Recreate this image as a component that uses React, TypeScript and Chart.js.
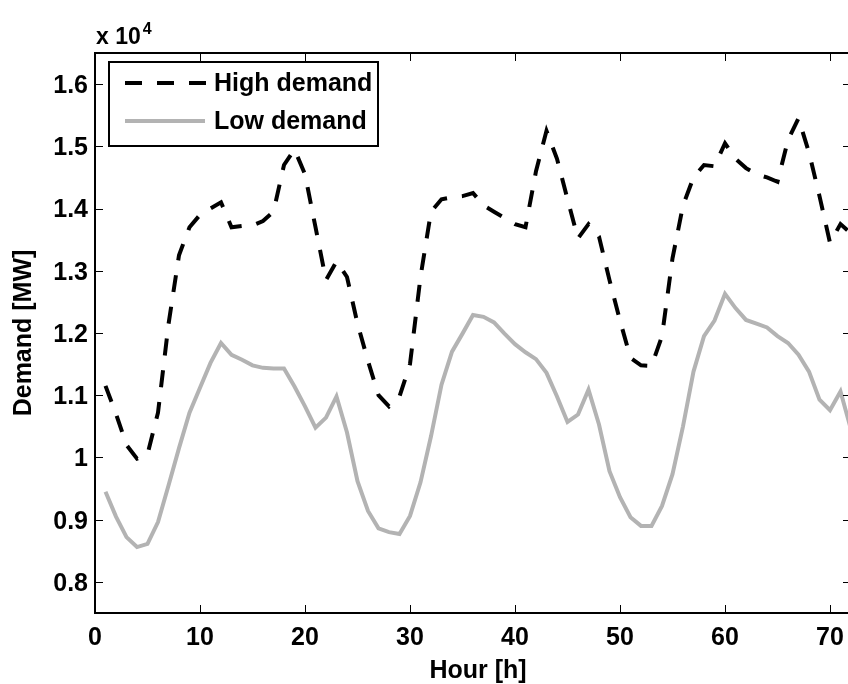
import React, { useEffect, useRef } from 'react';
import { Chart, registerables } from 'chart.js';

Chart.register(...registerables);

const hours = [
  1, 2, 3, 4, 5, 6, 7, 8, 9, 10, 11, 12, 13, 14, 15, 16, 17, 18, 19, 20, 21, 22, 23, 24,
  25, 26, 27, 28, 29, 30, 31, 32, 33, 34, 35, 36, 37, 38, 39, 40, 41, 42, 43, 44, 45, 46, 47, 48,
  49, 50, 51, 52, 53, 54, 55, 56, 57, 58, 59, 60, 61, 62, 63, 64, 65, 66, 67, 68, 69, 70, 71, 72,
];

const highDemand = [
  11150, 10700, 10200, 9980, 10050, 10720, 12140, 13250, 13700, 13900, 14000, 14100,
  13700, 13720, 13730, 13800, 13950, 14700, 14950, 14550, 13700, 12850, 13150, 12900,
  12150, 11550, 11000, 10820, 10980, 11500, 12900, 13950, 14150, 14180, 14200, 14250,
  14050, 13950, 13850, 13750, 13700, 14600, 15250, 14800, 14150, 13520, 13750, 13550,
  12850, 12200, 11600, 11480, 11470, 11950, 13200, 14050, 14500, 14700, 14680, 15050,
  14800, 14650, 14550, 14500, 14430, 15100, 15450, 14900, 14200, 13450, 13750, 13600,
];

const lowDemand = [
  9450, 9050, 8720, 8560, 8610, 8960, 9550, 10150, 10720, 11120, 11520, 11840,
  11650, 11570, 11480, 11440, 11430, 11430, 11140, 10820, 10480, 10640, 10980, 10400,
  9620, 9140, 8860, 8800, 8770, 9060, 9600, 10340, 11170, 11700, 11990, 12290,
  12260, 12170, 11990, 11820, 11690, 11580, 11360, 10980, 10570, 10690, 11090, 10530,
  9780, 9360, 9040, 8900, 8900, 9220, 9730, 10500, 11380, 11950, 12200, 12630,
  12400, 12210, 12150, 12090, 11950, 11840, 11650, 11380, 10930, 10760, 11060, 10450,
];

const seriesLabels = ['High demand', 'Low demand'];
const xTicks = [0, 10, 20, 30, 40, 50, 60, 70];
const yTicks = [8000, 9000, 10000, 11000, 12000, 13000, 14000, 15000, 16000];
const xRange = [0, 72];
const yRange = [7500, 16500];
const xTitle = 'Hour [h]';
const yTitle = 'Demand [MW]';
const exponentText = ['x 10', '4'];

const FONT = '"Liberation Sans", Arial, Helvetica, sans-serif';
const HIGH_COLOR = '#000000';
const LOW_COLOR = '#b3b3b3';
const DASH = [17, 15];

const framePlugin = {
  id: 'frame',
  afterDraw(chart: any) {
    const { ctx, chartArea: a, scales } = chart;
    ctx.save();
    ctx.strokeStyle = '#000';
    ctx.lineWidth = 2;
    ctx.setLineDash([]);
    ctx.beginPath();
    ctx.moveTo(a.left, a.top);
    ctx.lineTo(a.right, a.top);
    ctx.lineTo(a.right, a.bottom);
    ctx.stroke();

    // inward tick marks
    ctx.lineWidth = 1;
    const tl = 8;
    ctx.beginPath();
    for (const v of xTicks) {
      const px = Math.round(scales.x.getPixelForValue(v)) + 0.5;
      ctx.moveTo(px, a.bottom);
      ctx.lineTo(px, a.bottom - tl);
      ctx.moveTo(px, a.top);
      ctx.lineTo(px, a.top + tl);
    }
    for (const v of yTicks) {
      const py = Math.round(scales.y.getPixelForValue(v)) + 0.5;
      ctx.moveTo(a.left, py);
      ctx.lineTo(a.left + tl, py);
      ctx.moveTo(a.right, py);
      ctx.lineTo(a.right - tl, py);
    }
    ctx.stroke();

    // legend
    const lx = 109, ly = 62, lw = 269, lh = 84;
    ctx.fillStyle = '#fff';
    ctx.fillRect(lx, ly, lw, lh);
    ctx.lineWidth = 2;
    ctx.strokeStyle = '#000';
    ctx.strokeRect(lx, ly, lw, lh);

    ctx.lineWidth = 4;
    ctx.lineCap = 'butt';
    ctx.setLineDash(DASH);
    ctx.strokeStyle = HIGH_COLOR;
    ctx.beginPath();
    ctx.moveTo(125, 83);
    ctx.lineTo(206, 83);
    ctx.stroke();
    ctx.setLineDash([]);
    ctx.strokeStyle = LOW_COLOR;
    ctx.beginPath();
    ctx.moveTo(125, 121);
    ctx.lineTo(205, 121);
    ctx.stroke();

    ctx.fillStyle = '#000';
    ctx.font = `bold 25px ${FONT}`;
    ctx.textAlign = 'left';
    ctx.textBaseline = 'middle';
    ctx.fillText(seriesLabels[0], 214, 84);
    ctx.fillText(seriesLabels[1], 214, 122);

    // axis titles
    ctx.textAlign = 'center';
    ctx.textBaseline = 'alphabetic';
    ctx.fillText(xTitle, 478, 678);
    ctx.save();
    ctx.translate(31, (a.top + a.bottom) / 2);
    ctx.rotate(-Math.PI / 2);
    ctx.fillText(yTitle, 0, 0);
    ctx.restore();

    // exponent
    ctx.textAlign = 'left';
    ctx.font = `bold 23px ${FONT}`;
    ctx.fillText(exponentText[0], 96, 44);
    const w = ctx.measureText(exponentText[0]).width;
    ctx.font = `bold 16px ${FONT}`;
    ctx.fillText(exponentText[1], 96 + w + 2, 34);
    ctx.restore();
  },
};

export default function App() {
  const ref = useRef<HTMLCanvasElement | null>(null);

  useEffect(() => {
    if (!ref.current) return;
    const chart = new Chart(ref.current, {
      type: 'line',
      data: {
        datasets: [
          {
            label: seriesLabels[0],
            data: hours.map((h, i) => ({ x: h, y: highDemand[i] })),
            borderColor: HIGH_COLOR,
            borderWidth: 4,
            borderDash: DASH,
            borderCapStyle: 'butt',
            pointRadius: 0,
            tension: 0,
            fill: false,
          },
          {
            label: seriesLabels[1],
            data: hours.map((h, i) => ({ x: h, y: lowDemand[i] })),
            borderColor: LOW_COLOR,
            borderWidth: 4,
            pointRadius: 0,
            tension: 0,
            fill: false,
          },
        ],
      },
      options: {
        responsive: false,
        animation: false,
        devicePixelRatio: 1,
        layout: { padding: { left: 0, top: 53, right: 9, bottom: 0 } },
        plugins: {
          legend: { display: false },
          tooltip: { enabled: false },
          title: { display: false },
        },
        scales: {
          x: {
            type: 'linear',
            min: xRange[0],
            max: xRange[1],
            afterBuildTicks: (scale: any) => {
              scale.ticks = xTicks.map((v) => ({ value: v }));
            },
            afterFit: (scale: any) => {
              scale.height = 71;
            },
            grid: { display: false, drawTicks: false },
            border: { display: true, color: '#000', width: 2 },
            ticks: {
              color: '#000',
              font: { family: FONT, size: 25, weight: 'bold' },
              padding: 10,
              maxRotation: 0,
              autoSkip: false,
              callback: (v: any) => String(v),
            },
          },
          y: {
            type: 'linear',
            min: yRange[0],
            max: yRange[1],
            afterBuildTicks: (scale: any) => {
              scale.ticks = yTicks.map((v) => ({ value: v }));
            },
            afterFit: (scale: any) => {
              scale.width = 95;
            },
            grid: { display: false, drawTicks: false },
            border: { display: true, color: '#000', width: 2 },
            ticks: {
              color: '#000',
              font: { family: FONT, size: 25, weight: 'bold' },
              padding: 7,
              labelOffset: 2,
              autoSkip: false,
              callback: (v: any) => String(Number((Number(v) / 10000).toFixed(1))),
            },
          },
        },
      },
      plugins: [framePlugin],
    } as any);
    return () => chart.destroy();
  }, []);

  return (
    <div
      style={{
        position: 'absolute',
        left: 0,
        top: 0,
        width: 848,
        height: 684,
        overflow: 'hidden',
        background: '#fff',
      }}
    >
      <canvas ref={ref} width={860} height={684} style={{ display: 'block', width: 860, height: 684 }} />
    </div>
  );
}
